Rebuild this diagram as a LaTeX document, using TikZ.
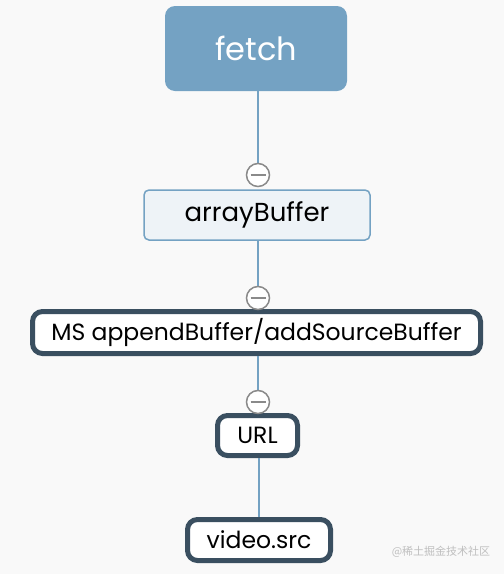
\documentclass[tikz,border=0pt]{standalone}
\usepackage{fontspec}
\setmainfont{Poppins}
\newfontfamily\cjk{Noto Sans CJK SC}
\usetikzlibrary{positioning}
\definecolor{steel}{HTML}{74A2C3}
\definecolor{pale}{HTML}{EEF3F7}
\definecolor{slate}{HTML}{3A4F60}
\definecolor{knob}{HTML}{8A8A8A}
\definecolor{bg}{HTML}{F9F9F9}

\begin{document}
\begin{tikzpicture}[x=1pt,y=-1pt,
  topbox/.style={fill=steel,rounded corners=10pt,text=white,inner sep=0pt,font=\fontsize{32}{34}\selectfont},
  palebox/.style={draw=steel,line width=1.5pt,fill=pale,rounded corners=5pt,inner sep=0pt,font=\fontsize{26}{28}\selectfont},
  darkbox/.style={draw=slate,line width=5pt,fill=white,rounded corners=10pt,inner sep=0pt,font=\fontsize{23.5}{25}\selectfont},
  fold/.style={circle,draw=knob,line width=1.5pt,fill=white,minimum size=23pt,inner sep=0pt,
    path picture={\draw[knob,line width=2pt] ([xshift=4pt]path picture bounding box.west) -- ([xshift=-4pt]path picture bounding box.east);}},
  link/.style={draw=steel,line width=1.5pt}]
\fill[bg] (0,0) rectangle (504,574);
\useasboundingbox (0,0) rectangle (504,574);
% boxes
\node[topbox,minimum width=182pt,minimum height=85pt] (fetch) at (256,48.5) {fetch};
\node[palebox,minimum width=226pt,minimum height=50pt] (buf) at (257,215) {arrayBuffer};
\node[darkbox,minimum width=448pt,minimum height=42pt] (ms) at (256.5,332.5) {MS appendBuffer/addSourceBuffer};
\node[darkbox,minimum width=80pt,minimum height=40pt] (url) at (257.5,435.5) {URL};
\node[darkbox,minimum width=143pt,minimum height=41pt] (src) at (259,540) {video.src};
% links
\draw[link] (fetch.south -| 258,0) -- (258,164);
\draw[link] (buf.south -| 258,0) -- (258,287);
\draw[link] (ms.south -| 258,0) -- (258,391);
\draw[link] (url.south -| 259,0) -- (src.north -| 259,0);
% fold knobs
\node[fold] (k1) at (258,175) {};
\node[fold] (k2) at (258,298) {};
\node[fold] (k3) at (258,402) {};
\node[text=black!25,font=\cjk\fontsize{11}{12}\selectfont] (mark) at (441,552) {@稀土掘金技术社区};
\end{tikzpicture}
\end{document}
